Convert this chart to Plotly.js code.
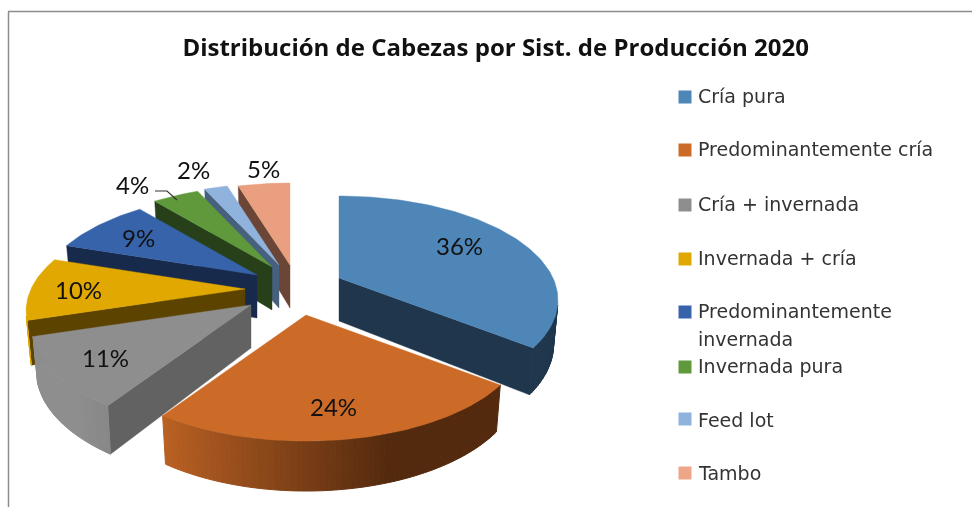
<!DOCTYPE html>
<html><head><meta charset="utf-8">
<script src="https://cdn.plot.ly/plotly-3.0.1.min.js"></script>
<style>html,body{margin:0;padding:0;background:#fff}#c{width:972px;height:507px;filter:blur(0.4px)}</style>
</head><body><div id="c"></div>
<script>
const categories = ["Cría pura","Predominantemente cría","Cría + invernada","Invernada + cría","Predominantemente<br>invernada","Invernada pura","Feed lot","Tambo"];
const shares = [35.5,23.8,10.9,9.9,8.9,4.2,2.1,4.7];
const topColors = ["#4e86b8","#cc6a27","#8e8e8e","#e0a800","#3763aa","#5f993c","#8fb3dc","#e99f80"];
const wallColors = ["#1f364d","#542a0e","#626262","#5c4300","#182a4c","#27401a","#46607e","#6b4535"];
const legendColors = ["#4e86b8","#cc6a27","#8e8e8e","#e0a800","#3763aa","#5f993c","#8fb3dc","#efa587"];
// exploded wedge tips, as offsets from the pie centre
const centerX = 285, centerY = 289;
const explodeX = [54,21,-34,-40,-28,-13,-6,5];
const explodeY = [-11,26,16,0,-14,-22,-24,-24];
const paintOrder = [7,6,5,4,3,2,0,1];
// perspective of the tilted disc
const radiusX = 214, radiusY = 99.4, depth = 43, persp = 0.2117, steps = 300;
const labelX = [459,333,105,78,138,132,193,263];
const labelY = [245,406,357,289,237,184,169,168];
const legendX = 685, legendTextX = 696;
const legendY = [97,150,205,259,312,367,419,473];
const legendTextY = [96,149,204,258,311,366,420,473];
const legendLineGap = 28;

function hex(c){return [1,3,5].map(i=>parseInt(c.substr(i,2),16));}
function mix(a,b,t){const A=hex(a),B=hex(b);return "rgb("+A.map((v,i)=>Math.round(v+(B[i]-v)*t)).join(",")+")";}
function proj(ax,ay,th,r,z){
  const u=r*Math.sin(th), v=r*Math.cos(th), f=1/(1+persp*v), zs=1-0.02*z;
  return [ax+radiusX*u*f*zs, ay-radiusY*v*f+depth*z*(1+(f-1)*0.6)];
}
function area(p){let s=0;p.forEach((a,i)=>{const b=p[(i+1)%p.length];s+=a[0]*b[1]-b[0]*a[1];});return s;}
function poly(pts,color,seam){
  const c=pts.concat([pts[0]]);
  return {x:c.map(p=>p[0]),y:c.map(p=>p[1]),type:"scatter",mode:"lines",fill:"toself",fillcolor:color,
    line:{color:color,width:seam?1:0.4},hoverinfo:"skip",showlegend:false};
}
const total = shares.reduce((a,b)=>a+b,0);
let cum=0;
const starts = shares.map(s=>{const a=cum;cum+=s;return a/total*2*Math.PI;});
const traces=[];
paintOrder.forEach(i=>{
  const t1=starts[i], t2=t1+shares[i]/total*2*Math.PI;
  const ax=centerX+explodeX[i], ay=centerY+explodeY[i];
  const P=(t,r,z)=>proj(ax,ay,t,r,z);
  const w1=[P(t1,0,0),P(t1,1,0),P(t1,1,1),P(t1,0,1)];
  const w2=[P(t2,1,0),P(t2,0,0),P(t2,0,1),P(t2,1,1)];
  if(area(w1)<0) traces.push(poly(w1,wallColors[i]));
  if(area(w2)<0) traces.push(poly(w2,wallColors[i]));
  const n=Math.max(4,Math.round((t2-t1)/(2*Math.PI)*steps));
  for(let k=0;k<n;k++){
    const a=t1+(t2-t1)*k/n, b=t1+(t2-t1)*(k+1)/n;
    const s=[P(a,1,0),P(b,1,0),P(b,1,1),P(a,1,1)];
    if(area(s)<0){
      const u=Math.sin((a+b)/2), m=Math.max(0,Math.min(1,-u+0.3));
      traces.push(poly(s,mix(wallColors[i],topColors[i],m),true));
    }
  }
  const top=[P(t1,0,0)];
  for(let k=0;k<=n;k++) top.push(P(t1+(t2-t1)*k/n,1,0));
  traces.push(poly(top,topColors[i]));
});
// leader line of the 4% label
traces.push({x:[155,167,177],y:[191,191,200],type:"scatter",mode:"lines",line:{color:"#333",width:1.2},hoverinfo:"skip",showlegend:false});
// legend keys
traces.push({x:categories.map(()=>legendX),y:legendY,type:"scatter",mode:"markers",
  marker:{symbol:"square",size:13,color:legendColors},hoverinfo:"skip",showlegend:false});

const annotations=[];
shares.forEach((s,i)=>annotations.push({x:labelX[i],y:labelY[i],xref:"x",yref:"y",text:Math.round(s)+"%",showarrow:false,
  font:{family:"Lato",size:24,color:"#111"},xanchor:"center",yanchor:"middle"}));
categories.forEach((c,i)=>c.split("<br>").forEach((line,j)=>annotations.push({x:legendTextX,y:legendTextY[i]+j*legendLineGap,xref:"x",yref:"y",text:line,showarrow:false,align:"left",
  font:{family:"DejaVu Sans",size:19,color:"#333"},xanchor:"left",yanchor:"middle"})));

const layout={width:972,height:507,margin:{l:0,r:0,t:0,b:0},paper_bgcolor:"#fff",plot_bgcolor:"#fff",
  title:{text:"<b>Distribución de Cabezas por Sist. de Producción 2020</b>",x:0.51,xanchor:"center",xref:"paper",y:0.907,yanchor:"middle",yref:"paper",
    font:{family:"Open Sans",size:24,color:"#111"}},
  xaxis:{range:[0,972],visible:false,fixedrange:true},
  yaxis:{range:[507,0],visible:false,fixedrange:true},
  showlegend:false,annotations:annotations,
  shapes:[{type:"line",xref:"x",yref:"y",x0:8.5,x1:8.5,y0:11.5,y1:507,line:{color:"#8c8c8c",width:1.5}},
          {type:"line",xref:"x",yref:"y",x0:8,x1:972,y0:11.5,y1:11.5,line:{color:"#8c8c8c",width:1.5}}]};
Plotly.newPlot("c",traces,layout,{displayModeBar:false,staticPlot:true});
</script></body></html>
